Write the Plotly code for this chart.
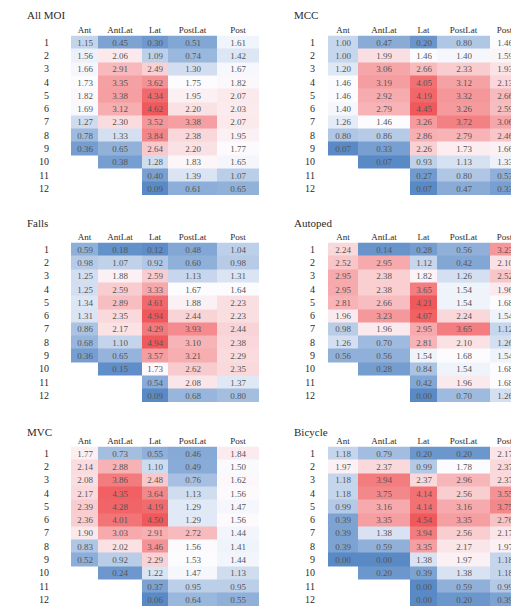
import numpy as np
import plotly.graph_objects as go

# ---------------- data ----------------
columns = ["Ant", "AntLat", "Lat", "PostLat", "Post"]
row_labels = [str(i) for i in range(1, 13)]
panel_names = ["All MOI", "MCC", "Falls", "Autoped", "MVC", "Bicycle"]

all_moi = [
    [1.15, 1.56, 1.66, 1.73, 1.82, 1.69, 1.27, 0.78, 0.36],
    [0.45, 2.06, 2.91, 3.35, 3.38, 3.12, 2.30, 1.33, 0.65, 0.38],
    [0.30, 1.09, 2.49, 3.62, 4.34, 4.62, 3.52, 3.84, 2.64, 1.28, 0.40, 0.09],
    [0.51, 0.74, 1.30, 1.75, 1.95, 2.20, 3.38, 2.38, 2.20, 1.83, 1.39, 0.61],
    [1.61, 1.42, 1.67, 1.82, 2.07, 2.03, 2.07, 1.95, 1.77, 1.65, 1.07, 0.65],
]
mcc = [
    [1.00, 1.00, 1.20, 1.46, 1.46, 1.40, 1.26, 0.80, 0.07],
    [0.47, 1.99, 3.06, 3.19, 2.92, 2.79, 1.46, 0.86, 0.33, 0.07],
    [0.20, 1.46, 2.66, 4.05, 4.19, 4.45, 3.26, 2.86, 2.26, 0.93, 0.27, 0.07],
    [0.80, 1.40, 2.33, 3.12, 3.32, 3.26, 3.72, 2.79, 1.73, 1.13, 0.80, 0.47],
    [1.46, 1.59, 1.93, 2.13, 2.66, 2.59, 3.06, 2.46, 1.66, 1.33, 0.53, 0.33],
]
falls = [
    [0.59, 0.98, 1.25, 1.25, 1.34, 1.31, 0.86, 0.68, 0.36],
    [0.18, 1.07, 1.88, 2.59, 2.89, 2.35, 2.17, 1.10, 0.65, 0.15],
    [0.12, 0.92, 2.59, 3.33, 4.61, 4.94, 4.29, 4.94, 3.57, 1.73, 0.54, 0.09],
    [0.48, 0.60, 1.13, 1.67, 1.88, 2.44, 3.93, 3.10, 3.21, 2.62, 2.08, 0.68],
    [1.04, 0.98, 1.31, 1.64, 2.23, 2.23, 2.44, 2.38, 2.29, 2.35, 1.37, 0.80],
]
autoped = [
    [2.24, 2.52, 2.95, 2.95, 2.81, 1.96, 0.98, 1.26, 0.56],
    [0.14, 2.95, 2.38, 2.38, 2.66, 3.23, 1.96, 0.70, 0.56, 0.28],
    [0.28, 1.12, 1.82, 3.65, 4.21, 4.07, 2.95, 2.81, 1.54, 0.84, 0.42, 0.00],
    [0.56, 0.42, 1.26, 1.54, 1.54, 2.24, 3.65, 2.10, 1.68, 1.54, 1.96, 0.70],
    [3.23, 2.10, 2.52, 1.96, 1.68, 1.54, 1.12, 1.26, 1.54, 1.68, 1.68, 1.26],
]
mvc = [
    [1.77, 2.14, 2.08, 2.17, 2.39, 2.36, 1.90, 0.83, 0.52],
    [0.73, 2.88, 3.86, 4.35, 4.28, 4.01, 3.03, 2.02, 0.92, 0.24],
    [0.55, 1.10, 2.48, 3.64, 4.19, 4.50, 2.91, 3.46, 2.29, 1.22, 0.37, 0.06],
    [0.46, 0.49, 0.76, 1.13, 1.29, 1.29, 2.72, 1.56, 1.53, 1.47, 0.95, 0.64],
    [1.84, 1.50, 1.62, 1.56, 1.47, 1.56, 1.44, 1.41, 1.44, 1.13, 0.95, 0.55],
]
bicycle = [
    [1.18, 1.97, 1.18, 1.18, 0.99, 0.39, 0.39, 0.39, 0.00],
    [0.79, 2.37, 3.94, 3.75, 3.16, 3.35, 1.38, 0.59, 0.00, 0.20],
    [0.20, 0.99, 2.37, 4.14, 4.14, 4.54, 3.94, 3.35, 1.38, 0.39, 0.00, 0.00],
    [0.20, 1.78, 2.96, 2.56, 3.16, 3.35, 2.56, 2.17, 1.97, 1.38, 0.59, 0.20],
    [2.17, 2.37, 2.37, 3.55, 3.75, 2.76, 2.17, 1.97, 1.18, 1.18, 0.99, 0.39],
]
panels = [all_moi, mcc, falls, autoped, mvc, bicycle]

# ---------------- layout / style ----------------
PAGE_W = 519
PAGE_H = 609
OFF = 8                      # default body margin of the page
W, H = PAGE_W - OFF, PAGE_H - OFF
FONT = "Liberation Serif"
TEXT_COLOR = "#555555"
LABEL_COLOR = "#2a2a2a"
BLUE, WHITE, RED = "#5A8AC6", "#FCFCFF", "#F0595C"

# positions below are in page pixels (converted with OFF)
col_x0 = [71, 328]
col_widths = [[27, 44, 26, 49, 42], [30, 52, 27, 53, 45]]
label_standoff = [21, 12]
title_x = [25, 292]
grid_top = [35.5, 242.5, 446.5]
title_y = [15, 223, 432]
row_h = 13.3


def px_x(x):
    return (x - OFF) / W


def px_y(y):
    return 1 - (y - OFF) / H


fig = go.Figure()
annotations = []
for p, (name, data) in enumerate(zip(panel_names, panels)):
    c, r = p % 2, p // 2
    n_rows = len(row_labels)
    z = np.full((n_rows, len(columns)), np.nan)
    for j, vals in enumerate(data):
        z[: len(vals), j] = vals
    text = [["" if np.isnan(v) else f"{v:.2f}" for v in row] for row in z]
    vmin, vmax, vmed = np.nanmin(z), np.nanmax(z), np.nanmedian(z)
    tmid = (vmed - vmin) / (vmax - vmin)

    x_left = col_x0[c]
    visible = PAGE_W - x_left
    edges = np.concatenate([[0], np.cumsum(col_widths[c])]).astype(float)
    edges = np.minimum(edges, visible)          # last column cut by page edge
    centers = (edges[:-1] + edges[1:]) / 2
    x_right = x_left + edges[-1]

    ax = "" if p == 0 else str(p + 1)
    fig.add_trace(go.Heatmap(
        z=z, x=edges, y=list(range(1, n_rows + 1)),
        text=text, texttemplate="%{text}",
        textfont=dict(family=FONT, size=9, color=TEXT_COLOR),
        colorscale=[[0, BLUE], [tmid, WHITE], [1, RED]],
        zmin=vmin, zmax=vmax, showscale=False, hoverongaps=False,
        xaxis="x" + ax, yaxis="y" + ax,
    ))
    top = grid_top[r]
    bottom = top + row_h * n_rows
    fig.layout["xaxis" + ax] = dict(
        domain=[px_x(x_left), min(1, px_x(x_right))], range=[0, edges[-1]],
        side="top", tickvals=list(centers), ticktext=columns,
        showgrid=False, zeroline=False, showline=False, ticks="",
        tickfont=dict(family=FONT, size=9, color=LABEL_COLOR),
        anchor="y" + ax, fixedrange=True, ticklabelstandoff=0,
    )
    fig.layout["yaxis" + ax] = dict(
        domain=[px_y(bottom), px_y(top)], range=[n_rows + 0.5, 0.5],
        tickvals=list(range(1, n_rows + 1)), ticktext=row_labels,
        showgrid=False, zeroline=False, showline=False, ticks="",
        tickfont=dict(family=FONT, size=10, color=LABEL_COLOR),
        anchor="x" + ax, fixedrange=True, ticklabelstandoff=label_standoff[c],
    )
    annotations.append(dict(
        text=name, x=px_x(title_x[c]), y=px_y(title_y[r]),
        xref="paper", yref="paper", xanchor="left", yanchor="middle",
        showarrow=False, font=dict(family=FONT, size=11, color=LABEL_COLOR),
    ))

fig.update_layout(
    width=W, height=H, margin=dict(l=0, r=0, t=0, b=0),
    paper_bgcolor="white", plot_bgcolor="white",
    annotations=annotations, showlegend=False,
)
fig.write_html("out.html")
